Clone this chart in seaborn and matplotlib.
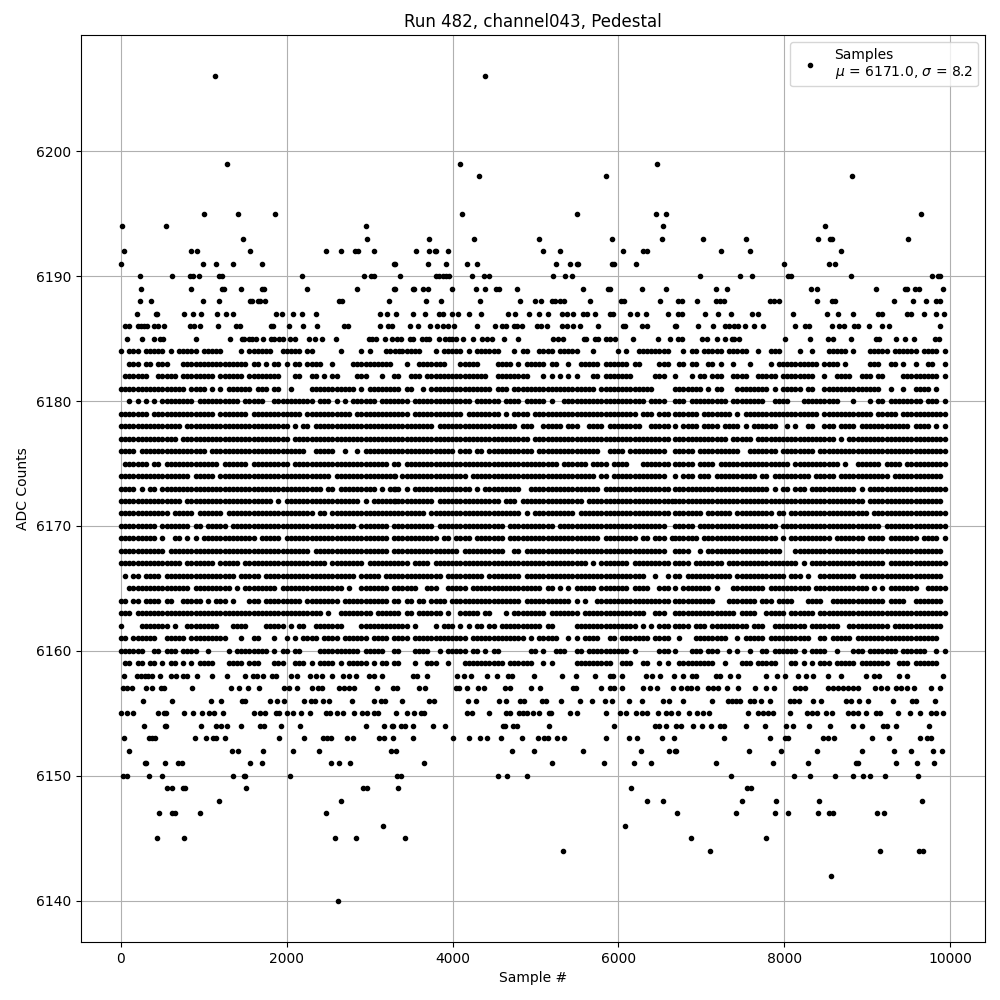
import numpy as np
import pandas as pd
import seaborn as sns
import matplotlib
matplotlib.use("Agg")
import matplotlib.pyplot as plt

title = "Run 482, channel043, Pedestal"
x_label = "Sample #"
y_label = "ADC Counts"
legend_label = "Samples\n$\\mu$ = 6171.0, $\\sigma$ = 8.2"

# Sparse ADC levels: sample numbers
samples_6206 = [1132, 4388]
samples_6199 = [1277, 4085, 6460]
samples_6198 = [4315, 5854, 8819]
samples_6195 = [1000, 1410, 1855, 4109, 5503, 6448, 6570, 9650]
samples_6194 = [12, 542, 2950, 6533, 8494]
samples_6193 = [1470, 2964, 3721, 4255, 5042, 5927, 6521, 7024, 7542, 8410, 8554, 8578, 9494]
samples_6192 = [36, 843, 916, 1554, 2470, 2655, 2819, 2855, 3048, 3560, 3721, 3782, 3806, 3939, 5091, 5297, 6060, 6291, 6351, 7241, 7590, 8687]
samples_6191 = [0, 988, 1145, 1349, 1699, 3289, 3301, 3709, 3915, 4170, 4291, 5248, 5418, 5503, 5515, 5927, 5951, 6218, 8000, 8542, 8614]
samples_6190 = [229, 614, 831, 867, 940, 1181, 1217, 2181, 2928, 3012, 3048, 3370, 3806, 3842, 3879, 3915, 3952, 4230, 4376, 4436, 5212, 5357, 5442, 6988, 7470, 7614, 8048, 8084, 8807, 9783, 9855, 9880]
samples_6189 = [241, 843, 1217, 1241, 1446, 1699, 1723, 2241, 2843, 3289, 3301, 3527, 3539, 3648, 3709, 3988, 4279, 4388, 4521, 4557, 4776, 5576, 5879, 5903, 6279, 6570, 7181, 7313, 8325, 8398, 9108, 9458, 9482, 9578, 9627, 9916]
samples_6188 = [229, 361, 988, 1181, 1554, 1578, 1651, 1675, 1735, 2626, 2663, 3229, 3685, 3855, 4327, 4812, 4994, 5067, 5200, 5236, 5297, 5345, 5660, 6036, 6073, 6497, 6723, 6771, 6952, 7181, 7229, 7277, 7831, 7880, 7940, 8398, 8578, 8614, 9325, 9554, 9711, 9831, 9880]
samples_6187 = [193, 422, 434, 759, 867, 964, 1157, 1265, 1349, 1867, 1940, 2072, 2181, 2349, 3120, 3205, 3313, 3527, 3673, 3842, 3879, 3988, 4061, 4194, 4339, 4667, 4751, 4921, 5042, 5151, 5321, 5382, 5454, 5576, 5624, 5721, 5903, 5939, 6145, 6230, 6339, 6594, 6723, 6771, 7048, 7205, 7361, 7614, 7687, 8108, 8518, 8651, 8831, 9132, 9181, 9482, 9530, 9687, 9831, 9928]
samples_6186 = [48, 96, 205, 241, 277, 313, 398, 446, 518, 831, 880, 952, 1169, 1385, 1434, 1807, 1831, 2024, 2193, 2361, 2687, 2735, 3120, 3217, 3265, 3491, 3588, 3733, 3818, 3879, 3939, 4012, 4291, 4509, 4594, 4642, 4739, 4776, 4836, 5018, 5067, 5139, 5321, 5382, 5454, 5539, 5757, 6060, 6085, 6279, 6351, 6679, 6691, 6964, 7145, 7289, 7337, 7398, 7446, 7530, 7639, 7747, 8133, 8253, 8301, 8578, 8663, 8723, 8843, 8892, 9024, 9181, 9265, 9880]
samples_6185 = [72, 253, 398, 470, 506, 904, 1313, 1458, 1482, 1542, 1578, 1627, 1711, 1807, 1843, 1904, 1952, 2036, 2096, 2265, 2337, 2422, 2590, 2988, 3024, 3072, 3181, 3265, 3333, 3382, 3491, 3527, 3636, 3685, 3721, 3842, 3903, 3952, 3988, 4036, 4121, 4242, 4351, 4412, 4473, 4618, 4788, 5212, 5273, 5333, 5588, 5612, 5721, 5757, 5854, 5903, 5963, 6182, 6473, 6618, 6723, 6771, 7012, 7072, 7193, 7289, 7373, 7398, 7458, 8012, 8313, 8530, 8590, 8807, 9108, 9145, 9349, 9458, 9566, 9819, 9867]
samples_6158 = [36, 193, 241, 289, 325, 373, 470, 602, 663, 747, 795, 916, 1096, 1277, 1494, 1590, 1639, 1711, 1819, 1867, 2048, 2120, 2277, 2349, 2422, 2542, 2675, 2747, 2831, 2988, 3048, 3145, 3527, 3576, 3697, 4048, 4133, 4218, 4412, 4533, 4667, 4715, 4982, 5321, 5491, 5721, 5903, 5939, 6048, 6339, 6400, 6497, 6667, 6783, 6892, 6940, 7181, 7229, 7349, 7446, 7783, 7916, 8012, 8169, 8265, 8349, 8530, 8687, 8988, 9084, 9145, 9385, 9482, 9916]
samples_6157 = [24, 72, 133, 301, 373, 482, 518, 855, 1325, 1422, 1530, 1663, 1964, 2024, 2120, 2301, 2373, 2422, 2626, 2687, 2747, 2807, 3084, 3277, 3333, 3600, 3673, 4036, 4073, 4170, 4303, 4376, 4630, 4691, 4945, 5054, 5454, 5491, 5794, 5903, 5951, 6048, 6291, 6376, 6461, 6655, 6759, 6831, 6880, 6952, 7084, 7145, 7205, 7313, 7446, 7651, 7783, 7880, 8133, 8193, 8253, 8530, 8590, 8651, 8711, 8771, 8831, 8892, 9096, 9169, 9241, 9349, 9410, 9482, 9566, 9771, 9880]
samples_6156 = [265, 614, 1084, 1205, 1458, 1494, 1795, 1880, 1964, 2205, 2289, 2337, 2434, 2506, 2783, 3048, 3132, 3181, 3394, 3721, 3770, 4182, 4279, 4557, 4642, 4812, 4861, 5079, 5127, 5309, 5539, 5685, 5842, 5927, 6133, 6279, 6533, 6606, 6783, 7133, 7325, 7373, 7422, 7470, 7590, 7639, 7723, 7831, 8072, 8120, 8181, 8349, 8446, 8747, 8807, 8904, 9012, 9313, 9542, 9590, 9819]
samples_6155 = [0, 72, 145, 446, 518, 542, 759, 867, 976, 1060, 1120, 1229, 1602, 1675, 1735, 1867, 1904, 2000, 2072, 2169, 2277, 2470, 2518, 2602, 2675, 2807, 2904, 2964, 3048, 3096, 3313, 3454, 3539, 3624, 3661, 4170, 4230, 4436, 4642, 4691, 4800, 4848, 4897, 4970, 5042, 5164, 5188, 5418, 5503, 5854, 6024, 6097, 6218, 6279, 6351, 6473, 6570, 6630, 6723, 6855, 6952, 7024, 7096, 7566, 7687, 7747, 7807, 7867, 8064, 8277, 8337, 8398, 8506, 8578, 8771, 8831, 8892, 8988, 9108, 9157, 9373, 9518, 9639, 9771, 9831, 9916]
samples_6154 = [277, 530, 542, 964, 1145, 1205, 1277, 1450, 1675, 1723, 1928, 2157, 2952, 3169, 3265, 3285, 3382, 3430, 3527, 3758, 3903, 4606, 4630, 4727, 4776, 5164, 5951, 6436, 6485, 6570, 6691, 6759, 6903, 7012, 7120, 7229, 7277, 7542, 7771, 8024, 8108, 8301, 8554, 8831, 8940, 9193, 9241, 9349, 9747]
samples_6153 = [36, 337, 373, 410, 892, 1024, 1108, 1145, 1253, 1904, 2205, 2434, 2482, 2530, 2723, 2795, 3108, 3169, 3277, 3527, 4000, 4194, 4327, 4412, 4582, 4836, 5030, 5103, 5151, 5261, 5345, 5854, 6133, 6230, 6521, 6667, 7277, 7831, 8012, 8048, 8470, 8530, 8602, 9060, 9265, 9639, 9723, 9771]
samples_6152 = [96, 1337, 1410, 1711, 2072, 2386, 3253, 3313, 4715, 4982, 5576, 6267, 6606, 6679, 6691, 7578, 7964, 8398, 8940, 9325, 9530, 9795, 9904]
samples_6151 = [289, 301, 530, 687, 735, 1554, 1699, 2530, 2626, 2759, 3661, 5200, 5830, 6194, 6388, 7181, 7867, 8289, 8867, 8892, 9349, 9602, 9807]
samples_6150 = [24, 72, 337, 490, 1349, 1482, 1494, 2036, 3333, 3382, 4545, 4655, 4897, 7361, 8120, 8313, 8614, 8831, 8952, 9036, 9217, 9615]
samples_6149 = [554, 614, 747, 771, 1506, 2916, 2964, 3346, 6157, 7554, 7602]
samples_6148 = [1181, 2651, 6351, 6533, 7494, 7904, 8422, 9663]
samples_6147 = [458, 614, 651, 952, 2470, 6712, 7422, 7892, 8048, 8410, 8542, 8590, 9120, 9205]
samples_6146 = [3157, 6085]
samples_6145 = [434, 759, 2578, 2831, 3430, 6880, 7783]
samples_6144 = [5333, 7108, 9157, 9627, 9675]
samples_6142 = [8566]
samples_6140 = [2614]

sparse_levels = [6206, 6199, 6198, 6195, 6194, 6193, 6192, 6191, 6190, 6189, 6188, 6187, 6186, 6185,
                 6158, 6157, 6156, 6155, 6154, 6153, 6152, 6151, 6150, 6149, 6148, 6147, 6146, 6145,
                 6144, 6142, 6140]

# Dense ADC levels: one character per 50-sample bin, '#' = a sample seen there.
# Three stretches for each level, starting at samples 0, 3295 and 6685.
stretch_starts = [0, 3295, 6685]
bin_width = 50
last_sample = 9950
rows_6184 = ("#.###.#####.#.#####.#####....#.######..#####.##......#....#.#...####", "..#####...#.#####.#.######...#.##..####.#####...#.....#.#..########", "..#.##.#####.#####..#..###....#..#...#####.#...#####.######.####.#")
rows_6183 = ("..###.##.###...################.##.#.##.#.##.####..#....##########", "...#..#######...#####....####.#.#####.##..#..#####.######.##....###", ".##.##..##.#..#...#....#.##########.####.#.....###..##.#..#..##..##")
rows_6182 = (".######..#####.########.######.########...##..##.#.##....###...#..", "##..###.###############..########...#.#.#.#.#...##.#######.....###", "#...#.##.###..####..#####.########..#..####..###.##....#########.#")
rows_6181 = ("################.####.#.#.######.###.##..#....###########.#.######", "##.##..#.###############.###.####################.#############....", "#######.#.##...########.#.#####.##..##############..#..#..####.#..")
rows_6180 = ("..#.#.#.#.########.##########.#####..##########.###.#.#.######.###", "####.##############.######.####.#####.#..####################.####", "###.#########.########..####...#########...#...#.##.########.###.##")
rows_6179 = ("#######.###############.#######.############.###########.#########", "####.############.########.#.####.#########################.###.###", "######.#######.#.##################.############.#####.###########")
rows_6178 = ("###############.#########################.#.##.###################", "##########.###################.###..#####.###..####.########..#####", "#.####.####.####.#.######..#.#..##..###.####.############.####.#.##")
rows_6177 = ("##############.##########################.########################", "#################################.#################################", "#############.#####.###################.#.########################")
rows_6176 = ("####.################.#######################..#####..#..#.#######", "###############.###.##.###########.###############..####.#########", "#####.##########..#######.########.###############################")
rows_6175 = (".######.##.#############.######.#########.#######################", "##.#####################################.######.####.####...#######", "#####.####.#################.###########.#..######.####.##########")
rows_6174 = ("#################.#####.###########################.###############", "#.################.##############################.##.#############", "#.###.###.##########.##.#########.#####.############.############")
rows_6173 = ("####.#.##.#######################################.##.#########.#.##", "##.#.##############.#.#########..#################.################", "#######################.#.##.###.###########.#.###################")
rows_6172 = ("###############.#####################.#.##################.#.######", "##########.###############.###.###############.#####################", "##############################################.##################")
rows_6171 = ("############.#####.######.#####################.##.###############", "########.######################.#.##########.######################", "#######.######.#########.##.###################.##################")
rows_6170 = ("#########.#######.##.#####.##############################.#######", "##########.################.###########.##########################", "#####.###################.########################.###############")
rows_6169 = ("#########.#..##.#.#.#############.#####.#########################", "###########.##.####.#######.######################.########.##.###.#", "######.##################.#.##########.#######.####.#######.####.##")
rows_6168 = ("###########.##################################.##################", "################.##########..##.##################################", "####..#.##################...####################################")
rows_6167 = ("###############.#######.#####.####################.########.######", "####.####.#####################################.#.#######.#########", "####.#######.#################.#.##################.##############")
rows_6166 = (".#.##.####.#################.#####.######################.#####.##", "############.#########.########.#############################..#..#", "##.###########.############.###.#..#########.####################")
rows_6165 = ("..###############.#########.#.########.###############.#..#######", "######..###..#####.#################.##.#.#.#####.#######.####..###", "#.#######.#...########.##########.#############.#.#.#######..#####")
rows_6164 = ("##.##.####.##..#####.#.###.#...###.#########.########.###########", "##.##.##.####.#################.###########.#.#..##################", "##########...#######.###.####...####..#############.####..#######")
rows_6163 = ("###.#############################################.#..########.####", "##.##.######.#..#####.##...#.########.#######.###############..###", "###############.####..#####.######.###############################")
rows_6162 = ("#....#######.#..########...####....#####.#.##..#######....########", "####.#....#.###.#.#.##.##.##########.##.....###############.#.#.###", "####.###.#########.###..########.#######..##########.############")
rows_6161 = ("##.######..#####.#########...#..##...#..#.#.####.####.######.####", "####.#############.#############.#.#####..#.#.####..##.#######.####", ".#...########..#.#####.##########..##.#####.####################")
rows_6160 = ("######..##.###.####..#....#.########.#.##.##....##########.#####", "##...####..#.#####.##.#.##.......##.#..###..##.##########.#.....###", "#...###.###..#.#..#..##.######.#.####..#...###.#######.######..#.##")
rows_6159 = (".##.##.##.#.##.#.#.####...####.###...###..###.#.####.#.#####.#.##", "##...#..###..#...##########.######..#.#.....#########..###..##..#.#", ".#########..#...###.#####...##.#.#.###.#####.#######..###.######.")

dense_levels = list(range(6184, 6158, -1))

xs, ys = [], []
for level in sparse_levels:
    for s in globals()[f"samples_{level}"]:
        xs.append(s)
        ys.append(level)
for level in dense_levels:
    for start, text in zip(stretch_starts, globals()[f"rows_{level}"]):
        for i, ch in enumerate(text):
            sample = start + i * bin_width
            if ch == "#" and sample <= last_sample:
                xs.append(sample)
                ys.append(level)

df = pd.DataFrame({"sample": xs, "adc": ys})

fig, ax = plt.subplots(figsize=(10, 10), dpi=100)
sns.lineplot(data=df, x="sample", y="adc", estimator=None, sort=False, errorbar=None,
             linestyle="", marker=".", markersize=6, color="k", markeredgecolor="k",
             markeredgewidth=1.0, label=legend_label, ax=ax)
ax.grid(True)
ax.set_xlim(-482, 10422)
ax.set_ylim(6136.7, 6209.3)
ax.set_title(title)
ax.set_xlabel(x_label)
ax.set_ylabel(y_label)
ax.legend(loc="upper right")
fig.subplots_adjust(left=0.081, right=0.985, top=0.965, bottom=0.058)
fig.savefig("out.png", dpi=100)
